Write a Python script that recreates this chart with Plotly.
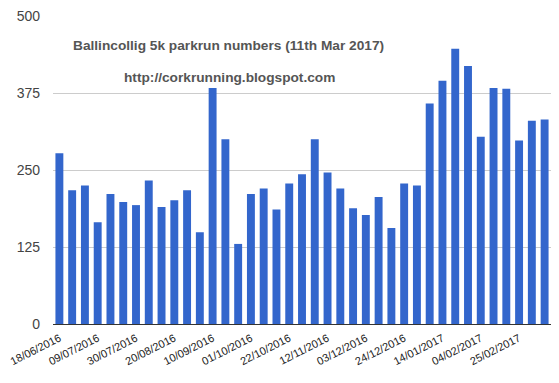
import datetime as dt
import plotly.graph_objects as go

start = dt.date(2016, 6, 18)
dates = [(start + dt.timedelta(weeks=i)).strftime("%d/%m/%Y") for i in range(39)]
runners = [277, 217, 225, 165, 211, 198, 193, 233, 190, 201,
           217, 149, 383, 300, 130, 211, 220, 186, 228, 243,
           300, 246, 220, 188, 177, 206, 156, 228, 225, 358,
           395, 447, 419, 304, 383, 382, 298, 330, 332]
tick_labels = dates[::3]
y_ticks = [0, 125, 250, 375, 500]

fig = go.Figure(go.Bar(x=dates, y=runners, marker_color="#3366cc",
                       marker_line_width=0))

fig.update_layout(
    width=559, height=383,
    margin=dict(l=50, r=8, t=15, b=59),
    paper_bgcolor="white", plot_bgcolor="white",
    bargap=0.38,
    showlegend=False,
    font=dict(family="Arial, Liberation Sans, sans-serif", color="#444"),
    xaxis=dict(type="category", tickmode="array", tickvals=tick_labels,
               ticktext=tick_labels, tickangle=-27,
               tickfont=dict(size=11, color="#222"), showgrid=False,
               ticks="", showline=False, ticklabelstandoff=5),
    yaxis=dict(range=[0, 500], tickvals=y_ticks, showgrid=True,
               gridcolor="#cccccc", zeroline=True, zerolinecolor="#333",
               zerolinewidth=1, tickfont=dict(size=14, color="#444"),
               ticks="", ticklabelstandoff=12),
    annotations=[
        dict(text="<b>Ballincollig 5k parkrun numbers (11th Mar 2017)</b>",
             xref="paper", yref="paper", x=(226.5 - 50) / 501, y=(324.3 - 35) / 309.3,
             showarrow=False, font=dict(size=13.7, color="#555")),
        dict(text="<b>http://corkrunning.blogspot.com</b>",
             xref="paper", yref="paper", x=(227.5 - 50) / 501, y=(324.3 - 67) / 309.3,
             showarrow=False, font=dict(size=13.7, color="#555")),
    ],
)

fig.write_html("out.html")
